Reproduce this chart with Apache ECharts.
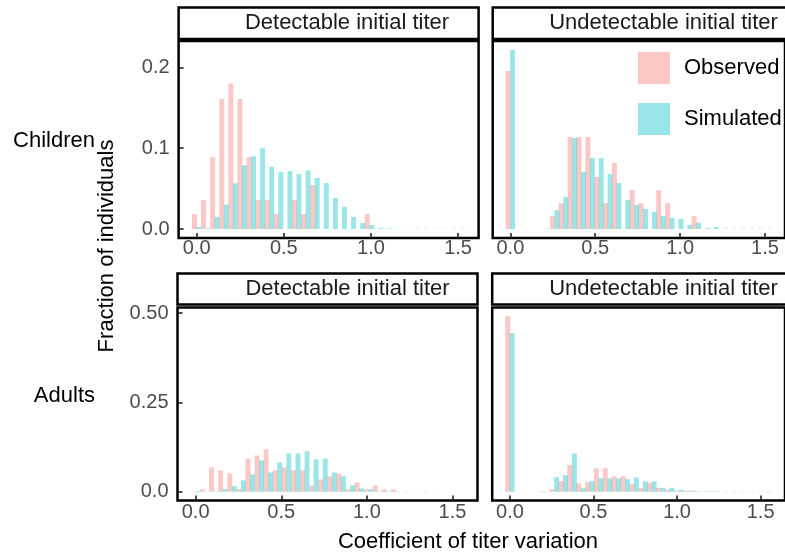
<!DOCTYPE html>
<html>
<head>
<meta charset="utf-8">
<script src="https://cdn.jsdelivr.net/npm/echarts@6/dist/echarts.min.js"></script>
<style>html,body{margin:0;padding:0;background:#fff;}#c{width:785px;height:559px;}</style>
</head>
<body>
<div id="c"></div>
<script>
// bin centres (top row and bottom row come from two separately binned plots)
const binsTop = [0, 0.0522, 0.1044, 0.1566, 0.2088, 0.2610, 0.3132, 0.3654, 0.4176, 0.4698, 0.5220, 0.5742, 0.6264, 0.6786, 0.7308, 0.7830, 0.8352, 0.8874, 0.9396, 0.9918, 1.0440, 1.0962, 1.1484, 1.2006, 1.2528, 1.3050, 1.3572, 1.4094, 1.4616, 1.5138];
const binsBottom = [0, 0.0531, 0.1062, 0.1593, 0.2124, 0.2655, 0.3186, 0.3717, 0.4248, 0.4779, 0.5310, 0.5841, 0.6372, 0.6903, 0.7434, 0.7965, 0.8496, 0.9027, 0.9558, 1.0089, 1.0620, 1.1151, 1.1682, 1.2213, 1.2744, 1.3275, 1.3806, 1.4337, 1.4868, 1.5399];

// Children, detectable initial titer
const childDetObs = [0.0186, 0.036, 0.089, 0.161, 0.180, 0.161, 0.089, 0.036, 0.036, 0.0186, 0, 0.036, 0.0186, 0.0545, 0, 0, 0, 0, 0, 0.0186, 0, 0, 0, 0, 0, 0, 0, 0, 0, 0];
const childDetSim = [0.0025, 0.001, 0.015, 0.030, 0.0565, 0.079, 0.090, 0.100, 0.077, 0.0705, 0.0718, 0.068, 0.0726, 0.0631, 0.0569, 0.0384, 0.0276, 0.0149, 0.0074, 0.005, 0.0012, 0.0008, 0.0004, 0.0004, 0.0004, 0.0004, 0.0004, 0.0004, 0.0004, 0.0004];
// Children, undetectable initial titer
const childUndObs = [0.1955, 0, 0, 0, 0, 0.016, 0.032, 0.1139, 0.1139, 0.1139, 0.0644, 0.032, 0.0817, 0, 0.0483, 0.032, 0, 0.0483, 0.032, 0, 0, 0.016, 0, 0, 0, 0, 0, 0, 0, 0];
const childUndSim = [0.2215, 0, 0, 0, 0.0005, 0.0235, 0.0396, 0.1126, 0.0705, 0.0879, 0.0879, 0.068, 0.0569, 0.0359, 0.0297, 0.0248, 0.021, 0.016, 0.0136, 0.0124, 0.005, 0.0078, 0.0012, 0.0025, 0.0005, 0.0005, 0.0005, 0.0005, 0.0005, 0.0005];
// Adults, detectable initial titer
const adultDetObs = [0, 0.0068, 0.068, 0.060, 0.051, 0.0075, 0.093, 0.1017, 0.1185, 0.060, 0.068, 0.060, 0.060, 0.0178, 0.0345, 0.043, 0.051, 0.0068, 0.026, 0.0068, 0.0178, 0.0068, 0.0068, 0, 0, 0, 0, 0, 0, 0];
const adultDetSim = [0.002, 0.0005, 0.001, 0.0074, 0.0155, 0.032, 0.0485, 0.0877, 0.054, 0.082, 0.107, 0.107, 0.113, 0.0905, 0.093, 0.054, 0.043, 0.0177, 0.0093, 0.0068, 0.0012, 0.001, 0.001, 0.0008, 0.0008, 0.0008, 0.0006, 0, 0, 0];
// Adults, undetectable initial titer
const adultUndObs = [0.491, 0, 0, 0, 0.002, 0.0075, 0.030, 0.0746, 0.0235, 0.0265, 0.0655, 0.0655, 0.0438, 0.0438, 0.0215, 0.011, 0.025, 0.011, 0.0056, 0.003, 0.003, 0.003, 0, 0.001, 0, 0, 0, 0, 0, 0];
const adultUndSim = [0.4445, 0, 0, 0, 0.0005, 0.041, 0.0466, 0.107, 0.0095, 0.0295, 0.0375, 0.0375, 0.0375, 0.0354, 0.040, 0.029, 0.029, 0.011, 0.011, 0.0056, 0.003, 0.001, 0.001, 0.001, 0.0008, 0.0008, 0.0008, 0.0008, 0.0008, 0.0008];

const xTickValues = [0, 0.5, 1, 1.5];
const xTickLabels = ['0.0', '0.5', '1.0', '1.5'];
const yTopValues = [0, 0.1, 0.2];
const yTopLabels = ['0.0', '0.1', '0.2'];
const yBottomValues = [0, 0.25, 0.5];
const yBottomLabels = ['0.0', '0.25', '0.50'];
const seriesNames = ['Observed', 'Simulated'];
const rowLabels = ['Children', 'Adults'];
const stripLabels = ['Detectable initial titer', 'Undetectable initial titer'];
const xTitle = 'Coefficient of titer variation';
const yTitle = 'Fraction of individuals';

const FONT = '"Liberation Sans", Arial, Helvetica, sans-serif';
const obsColor = 'rgba(248,118,109,0.4)';
const simColor = 'rgba(0,191,196,0.4)';

const panels = [
  {left: 178.6, top: 41, width: 300, height: 197, xmin: -0.104, xmax: 1.618, ymin: -0.0111, ymax: 0.2326, bins: binsTop, obs: childDetObs, sim: childDetSim, yv: yTopValues, yl: yTopLabels, showY: true, xm: 0},
  {left: 492.7, top: 41, width: 299, height: 197, xmin: -0.104, xmax: 1.618, ymin: -0.0111, ymax: 0.2326, bins: binsTop, obs: childUndObs, sim: childUndSim, yv: yTopValues, yl: yTopLabels, showY: false, xm: 0},
  {left: 177.5, top: 307.5, width: 300, height: 193, xmin: -0.106, xmax: 1.646, ymin: -0.0245, ymax: 0.5155, bins: binsBottom, obs: adultDetObs, sim: adultDetSim, yv: yBottomValues, yl: yBottomLabels, showY: true, xm: 2},
  {left: 492.2, top: 307.5, width: 299, height: 193, xmin: -0.106, xmax: 1.646, ymin: -0.0245, ymax: 0.5155, bins: binsBottom, obs: adultUndObs, sim: adultUndSim, yv: yBottomValues, yl: yBottomLabels, showY: false, xm: 2}
];

function pairs(bins, vals) { return bins.map((b, i) => [b, vals[i]]); }

const grid = [], xAxis = [], yAxis = [], series = [];
panels.forEach((p, k) => {
  grid.push({left: p.left, top: p.top, width: p.width, height: p.height, show: true, borderColor: '#000', borderWidth: 2.5, backgroundColor: 'transparent', z: 0});
  xAxis.push({
    type: 'value', gridIndex: k, min: p.xmin, max: p.xmax, position: 'bottom', z: 5,
    axisLine: {show: false, onZero: false}, splitLine: {show: false},
    axisTick: {show: true, inside: true, length: 5, customValues: xTickValues, lineStyle: {color: '#222', width: 1.6}},
    axisLabel: {show: true, customValues: xTickValues, formatter: v => xTickLabels[xTickValues.indexOf(v)], fontSize: 20, color: '#4d4d4d', fontFamily: FONT, margin: p.xm}
  });
  yAxis.push({
    type: 'value', gridIndex: k, min: p.ymin, max: p.ymax, position: 'left', z: 5,
    axisLine: {show: false, onZero: false}, splitLine: {show: false},
    axisTick: {show: p.showY, inside: true, length: 5, customValues: p.yv, lineStyle: {color: '#222', width: 1.6}},
    axisLabel: {show: p.showY, customValues: p.yv, formatter: v => p.yl[p.yv.indexOf(v)], fontSize: 20, color: '#4d4d4d', fontFamily: FONT, margin: 9}
  });
  series.push({type: 'bar', name: seriesNames[0], xAxisIndex: k, yAxisIndex: k, data: pairs(p.bins, p.obs), barWidth: 4.9, barGap: '-8%', itemStyle: {color: obsColor}, silent: true, animation: false});
  series.push({type: 'bar', name: seriesNames[1], xAxisIndex: k, yAxisIndex: k, data: pairs(p.bins, p.sim), barWidth: 4.9, barGap: '-8%', itemStyle: {color: simColor}, silent: true, animation: false});
});

function strip(x, y, w, h, cx, label) {
  return [
    {type: 'rect', shape: {x: x, y: y, width: w, height: h}, style: {fill: '#fff', stroke: '#000', lineWidth: 2.5}, z: 10},
    {type: 'text', x: cx, y: y + h / 2, style: {text: label, fontSize: 22, fontFamily: FONT, fill: '#1a1a1a', align: 'center', verticalAlign: 'middle'}, z: 11}
  ];
}

const graphic = [].concat(
  strip(178.6, 7.5, 300, 31.5, 347, stripLabels[0]),
  strip(492.7, 7.5, 310, 31.5, 663.5, stripLabels[1]),
  strip(177.5, 273.5, 300, 31, 347.5, stripLabels[0]),
  strip(492.2, 273.5, 310, 31, 663.5, stripLabels[1]),
  [
    {type: 'text', x: 95, y: 141, style: {text: rowLabels[0], fontSize: 22, fontFamily: FONT, fill: '#000', align: 'right', verticalAlign: 'middle'}},
    {type: 'text', x: 95, y: 396, style: {text: rowLabels[1], fontSize: 22, fontFamily: FONT, fill: '#000', align: 'right', verticalAlign: 'middle'}},
    {type: 'text', x: 468, y: 542, style: {text: xTitle, fontSize: 22, fontFamily: FONT, fill: '#000', align: 'center', verticalAlign: 'middle'}},
    {type: 'text', x: 107, y: 246, rotation: Math.PI / 2, style: {text: yTitle, fontSize: 22, fontFamily: FONT, fill: '#000', align: 'center', verticalAlign: 'middle'}}
  ]
);

const chart = echarts.init(document.getElementById('c'), null, {renderer: 'canvas'});
chart.setOption({
  animation: false,
  backgroundColor: '#fff',
  grid: grid, xAxis: xAxis, yAxis: yAxis, series: series,
  legend: {
    data: seriesNames, orient: 'vertical', left: 638, top: 52, padding: 0,
    itemWidth: 32, itemHeight: 32, itemGap: 19, icon: 'rect', selectedMode: false,
    textStyle: {fontSize: 22, fontFamily: FONT, color: '#000', padding: [0, 0, 0, 9]}
  },
  graphic: graphic
});
</script>
</body>
</html>
